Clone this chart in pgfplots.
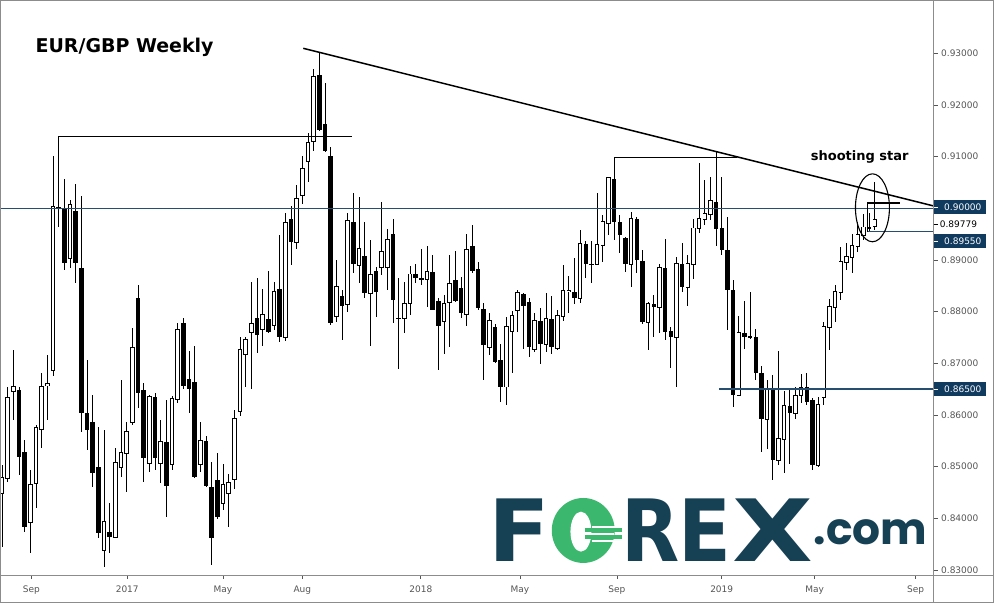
\documentclass[border=0pt]{standalone}
\usepackage{pgfplots}
\pgfplotsset{compat=1.18}
\usepackage{pgfplotstable}
\usepackage{fontspec}
\setmainfont{DejaVu Sans}
\newfontfamily\logofont{Poppins}
\definecolor{lvl}{RGB}{38,78,112}
\definecolor{lblbox}{RGB}{16,58,94}
\definecolor{ticktxt}{RGB}{85,85,85}
\definecolor{framec}{RGB}{140,140,140}
\definecolor{fxnavy}{RGB}{22,64,84}
\definecolor{fxgreen}{RGB}{60,184,110}

\pgfplotstableread{
i o h l c
0 .8449 .8503 .8345 .8478
1 .8478 .8654 .8470 .8633
2 .8646 .8726 .8590 .8654
5 .8393 .8493 .8333 .8464
6 .8468 .8580 .8420 .8575
7 .8573 .8681 .8536 .8654
8 .8658 .8716 .8590 .8660
9 .8687 .9101 .8676 .9002
12 .8904 .9016 .8884 .9006
18 .8339 .8571 .8306 .8393
20 .8364 .8536 .8362 .8507
21 .8499 .8668 .8480 .8526
22 .8526 .8586 .8451 .8567
23 .8586 .8768 .8580 .8729
26 .8507 .8639 .8490 .8635
28 .8507 .8590 .8468 .8548
30 .8505 .8637 .8493 .8631
31 .8631 .8778 .8623 .8764
35 .8505 .8586 .8490 .8550
39 .8430 .8505 .8416 .8464
40 .8449 .8486 .8383 .8468
41 .8476 .8609 .8457 .8592
42 .8608 .8751 .8598 .8726
43 .8718 .8751 .8654 .8745
44 .8760 .8857 .8650 .8776
46 .8766 .8844 .8733 .8793
48 .8774 .8857 .8764 .8838
50 .8751 .8991 .8743 .8971
52 .8934 .9045 .8921 .9018
53 .9025 .9101 .9008 .9076
54 .9091 .9145 .9051 .9126
55 .9130 .9269 .9110 .9254
59 .8791 .8900 .8780 .8847
61 .8815 .8991 .8799 .8976
63 .8890 .9022 .8855 .8921
65 .8836 .8938 .8733 .8871
67 .8886 .9012 .8871 .8916
68 .8887 .8961 .8842 .8938
71 .8787 .8858 .8759 .8815
72 .8817 .8888 .8793 .8872
75 .8864 .8927 .8809 .8877
78 .8782 .8832 .8718 .8815
79 .8819 .8909 .8732 .8853
82 .8795 .8951 .8772 .8919
86 .8732 .8797 .8716 .8782
89 .8655 .8790 .8619 .8770
90 .8763 .8802 .8681 .8792
91 .8803 .8842 .8761 .8836
94 .8727 .8798 .8722 .8782
96 .8737 .8836 .8722 .8785
98 .8729 .8803 .8726 .8791
99 .8791 .8890 .8782 .8840
100 .8839 .8869 .8798 .8841
102 .8827 .8958 .8817 .8931
105 .8892 .9030 .8890 .8929
106 .8929 .8987 .8896 .8974
107 .8972 .9061 .8948 .9058
111 .8892 .8993 .8848 .8980
114 .8779 .8819 .8726 .8815
116 .8808 .8893 .8758 .8884
119 .8751 .8905 .8655 .8892
121 .8847 .8909 .8811 .8893
122 .8893 .8980 .8864 .8961
123 .8961 .9088 .8952 .8980
124 .8980 .9054 .8967 .8989
125 .8989 .9060 .8977 .9014
130 .8639 .8791 .8637 .8759
135 .8592 .8668 .8534 .8650
137 .8513 .8724 .8503 .8553
138 .8553 .8647 .8487 .8617
140 .8603 .8655 .8592 .8637
141 .8639 .8679 .8623 .8652
144 .8503 .8635 .8500 .8619
145 .8635 .8780 .8619 .8770
146 .8770 .8824 .8726 .8809
147 .8809 .8851 .8780 .8838
148 .8838 .8925 .8822 .8896
149 .8896 .8932 .8880 .8905
150 .8905 .8950 .8874 .8927
151 .8927 .8974 .8916 .8948
152 .8948 .8989 .8938 .8963
154 .8965 .9051 .8958 .8978
}\upcandles

\pgfplotstableread{
i o h l c
3 .8648 .8654 .8484 .8519
4 .8528 .8551 .8374 .8383
10 .9002 .9140 .8964 .8998
11 .9000 .9056 .8880 .8894
13 .8994 .9047 .8855 .8894
14 .8884 .9023 .8567 .8604
15 .8604 .8706 .8532 .8571
16 .8586 .8639 .8461 .8488
17 .8499 .8577 .8362 .8372
19 .8374 .8430 .8333 .8364
24 .8826 .8851 .8613 .8642
25 .8648 .8662 .8470 .8517
27 .8635 .8642 .8493 .8517
29 .8548 .8629 .8403 .8463
32 .8778 .8787 .8650 .8656
33 .8669 .8724 .8604 .8650
34 .8664 .8733 .8478 .8480
36 .8550 .8559 .8461 .8463
37 .8461 .8509 .8310 .8362
38 .8474 .8526 .8399 .8403
45 .8787 .8865 .8720 .8755
47 .8786 .8878 .8758 .8760
49 .8844 .8948 .8741 .8751
51 .8979 .9004 .8890 .8934
56 .9259 .9300 .9149 .9151
57 .9163 .9242 .9109 .9112
58 .9101 .9118 .8774 .8778
60 .8830 .8842 .8745 .8811
62 .8974 .9029 .8875 .8892
64 .8908 .8974 .8826 .8836
66 .8879 .8886 .8790 .8838
69 .8950 .8979 .8778 .8822
70 .8788 .8866 .8689 .8787
73 .8872 .8892 .8855 .8866
74 .8866 .8922 .8851 .8861
76 .8877 .8909 .8803 .8804
77 .8821 .8826 .8687 .8773
80 .8861 .8918 .8819 .8821
81 .8845 .8867 .8787 .8798
83 .8927 .8967 .8875 .8879
84 .8882 .8896 .8804 .8808
85 .8806 .8816 .8668 .8735
87 .8771 .8777 .8700 .8703
88 .8706 .8738 .8626 .8655
92 .8834 .8836 .8727 .8811
93 .8819 .8826 .8713 .8732
95 .8782 .8808 .8699 .8737
97 .8785 .8830 .8718 .8731
101 .8838 .8903 .8815 .8827
103 .8931 .8937 .8866 .8892
104 .8893 .8937 .8855 .8891
108 .9056 .9099 .8938 .8974
109 .8974 .8987 .8914 .8948
110 .8942 .8945 .8877 .8892
112 .8980 .8983 .8874 .8900
113 .8898 .8919 .8777 .8779
115 .8815 .8832 .8751 .8810
117 .8884 .8940 .8745 .8761
118 .8763 .8771 .8690 .8751
120 .8892 .8932 .8838 .8847
126 .9012 .9109 .8927 .8961
127 .8961 .9061 .8909 .8919
128 .8919 .8983 .8764 .8842
129 .8842 .8861 .8616 .8639
131 .8759 .8821 .8727 .8751
132 .8752 .8838 .8748 .8751
133 .8751 .8766 .8668 .8681
134 .8681 .8694 .8529 .8592
136 .8650 .8677 .8474 .8513
139 .8617 .8652 .8506 .8603
142 .8654 .8681 .8619 .8626
143 .8629 .8632 .8493 .8503
153 .8963 .8990 .8955 .8960
}\downcandles

\begin{document}
\begin{tikzpicture}[x=1pt,y=1pt]
\begin{axis}[
  at={(0pt,28pt)}, anchor=south west,
  scale only axis, width=934pt, height=575pt,
  xmin=-0.28, xmax=164.4, ymin=0.82903, ymax=0.94025,
  axis line style={draw=none},
  xtick={5.2,22.1,39.0,53.0,73.9,91.4,108.5,127.0,143.4,161.2},
  xticklabels={Sep,2017,May,Aug,2018,May,Sep,2019,May,Sep},
  ytick={0.83,0.84,0.85,0.86,0.87,0.88,0.89,0.91,0.92,0.93},
  xtick pos=bottom, ytick pos=right, yticklabel pos=right,
  tick align=outside,
  major tick length=4pt,
  major tick style={draw=ticktxt, line width=0.6pt},
  tick label style={font=\fontsize{9}{10}\selectfont, text=ticktxt},
  xticklabel style={yshift=-3.5pt},
  /pgf/number format/assume math mode=true,
  yticklabel style={/pgf/number format/.cd, fixed, fixed zerofill, precision=5},
]
% wicks
\addplot[draw=none, mark=none, forget plot,
  error bars/.cd, y dir=both, y explicit, error mark=none,
  error bar style={line width=0.9pt, draw=black}]
  table[x=i, y expr={(\thisrow{h}+\thisrow{l})/2}, y error expr={(\thisrow{h}-\thisrow{l})/2}] {\upcandles};
\addplot[draw=none, mark=none, forget plot,
  error bars/.cd, y dir=both, y explicit, error mark=none,
  error bar style={line width=0.9pt, draw=black}]
  table[x=i, y expr={(\thisrow{h}+\thisrow{l})/2}, y error expr={(\thisrow{h}-\thisrow{l})/2}] {\downcandles};
% down bodies
\addplot[draw=none, mark=none, forget plot,
  error bars/.cd, y dir=both, y explicit, error mark=none,
  error bar style={line width=4.4pt, draw=black}]
  table[x=i, y expr={(\thisrow{o}+\thisrow{c})/2}, y error expr={max((\thisrow{o}-\thisrow{c})/2,0.0001)}] {\downcandles};
% up bodies: outline then fill
\addplot[draw=none, mark=none, forget plot,
  error bars/.cd, y dir=both, y explicit, error mark=none,
  error bar style={line width=4.4pt, draw=black}]
  table[x=i, y expr={(\thisrow{o}+\thisrow{c})/2}, y error expr={abs(\thisrow{c}-\thisrow{o})/2+0.00018}] {\upcandles};
\addplot[draw=none, mark=none, forget plot,
  error bars/.cd, y dir=both, y explicit, error mark=none,
  error bar style={line width=2.6pt, draw=white}]
  table[x=i, y expr={(\thisrow{o}+\thisrow{c})/2}, y error expr={abs(\thisrow{c}-\thisrow{o})/2}] {\upcandles};
% levels
\addplot[lvl, line width=1.3pt, forget plot] coordinates {(-0.28,0.9) (164.4,0.9)};
\addplot[lvl, line width=1.3pt, forget plot] coordinates {(126.5,0.865) (164.4,0.865)};
\addplot[lvl, line width=1.3pt, forget plot] coordinates {(152.7,0.8955) (164.4,0.8955)};
% drawings
\addplot[black, line width=1.5pt, forget plot] coordinates {(53.16,0.93097) (164.4,0.90045)};
\addplot[black, line width=1.3pt, forget plot] coordinates {(10,0.91395) (61.8,0.91395)};
\addplot[black, line width=1.3pt, forget plot] coordinates {(108,0.90988) (129.7,0.90988)};
\addplot[black, line width=1.3pt, forget plot] coordinates {(158.4,0.90104) (152.7,0.90104) (152.7,0.8955)};
\draw[black, line width=1.1pt] (axis cs:153.6,0.9001) ellipse [x radius=17pt, y radius=34pt];
\end{axis}
% frame lines
\draw[framec, line width=0.8pt] (0,28) -- (994,28);
\draw[framec, line width=0.8pt] (934,0) -- (934,603);
\draw[framec, line width=1pt] (0.5,0.5) rectangle (993.5,602.5);
% price labels
\node[fill=lblbox, text=white, minimum width=52pt, minimum height=14pt, inner sep=0pt, anchor=west,
  font=\fontsize{9}{10}\selectfont] at (934,396) {\hspace*{6pt}0.90000};
\node[text=black, inner sep=0pt, anchor=west, font=\fontsize{9}{10}\selectfont] at (940,379) {0.89779};
\draw[black, line width=0.6pt] (934,379) -- (938,379);
\node[fill=lblbox, text=white, minimum width=52pt, minimum height=14pt, inner sep=0pt, anchor=west,
  font=\fontsize{9}{10}\selectfont] at (934,362) {\hspace*{6pt}0.89550};
\node[fill=lblbox, text=white, minimum width=52pt, minimum height=14pt, inner sep=0pt, anchor=west,
  font=\fontsize{9}{10}\selectfont] at (934,214) {\hspace*{6pt}0.86500};
\foreach \yy in {396,362,214} {\draw[white, line width=0.6pt] (934,\yy) -- (938,\yy);}
% titles
\node[anchor=base west, inner sep=0pt, font=\bfseries\fontsize{19}{21}\selectfont] at (35,551) {EUR/GBP Weekly};
\node[anchor=base, inner sep=0pt, font=\bfseries\fontsize{13}{15}\selectfont] at (860,443) {shooting star};
% logo
\begin{scope}
\node[anchor=base, inner sep=0pt, text=fxnavy, font=\bfseries\fontsize{86}{86}\selectfont] at (519.5,41) {\scalebox{1.05}[1]{F}};
\node[anchor=base, inner sep=0pt, text=fxnavy, font=\bfseries\fontsize{86}{86}\selectfont] at (651,41) {\scalebox{0.88}[1]{R}};
\node[anchor=base, inner sep=0pt, text=fxnavy, font=\bfseries\fontsize{86}{86}\selectfont] at (705,41) {\scalebox{0.9}[1]{E}};
\node[anchor=base, inner sep=0pt, text=fxnavy, font=\bfseries\fontsize{86}{86}\selectfont] at (773,41) {\scalebox{1.22}[1]{X}};
\node[anchor=base, inner sep=0pt, text=fxnavy, font=\logofont\bfseries\fontsize{44}{44}\selectfont] at (871,58) {.com};
\fill[fxgreen] (583.3,72.5) ellipse [x radius=31.5, y radius=32.5];
\fill[white] (581,71.3) ellipse [x radius=10.5, y radius=20];
\draw[white, line width=2pt] (592,76.3) -- (615,76.3);
\draw[white, line width=2pt] (592,62.4) -- (615,62.4);
\draw[fxgreen, line width=4pt] (585,73) -- (622,73);
\draw[fxgreen, line width=4pt] (585,65.7) -- (622,65.7);
\draw[white, line width=2pt] (590,69.35) -- (614,69.35);
\end{scope}
\end{tikzpicture}
\end{document}
